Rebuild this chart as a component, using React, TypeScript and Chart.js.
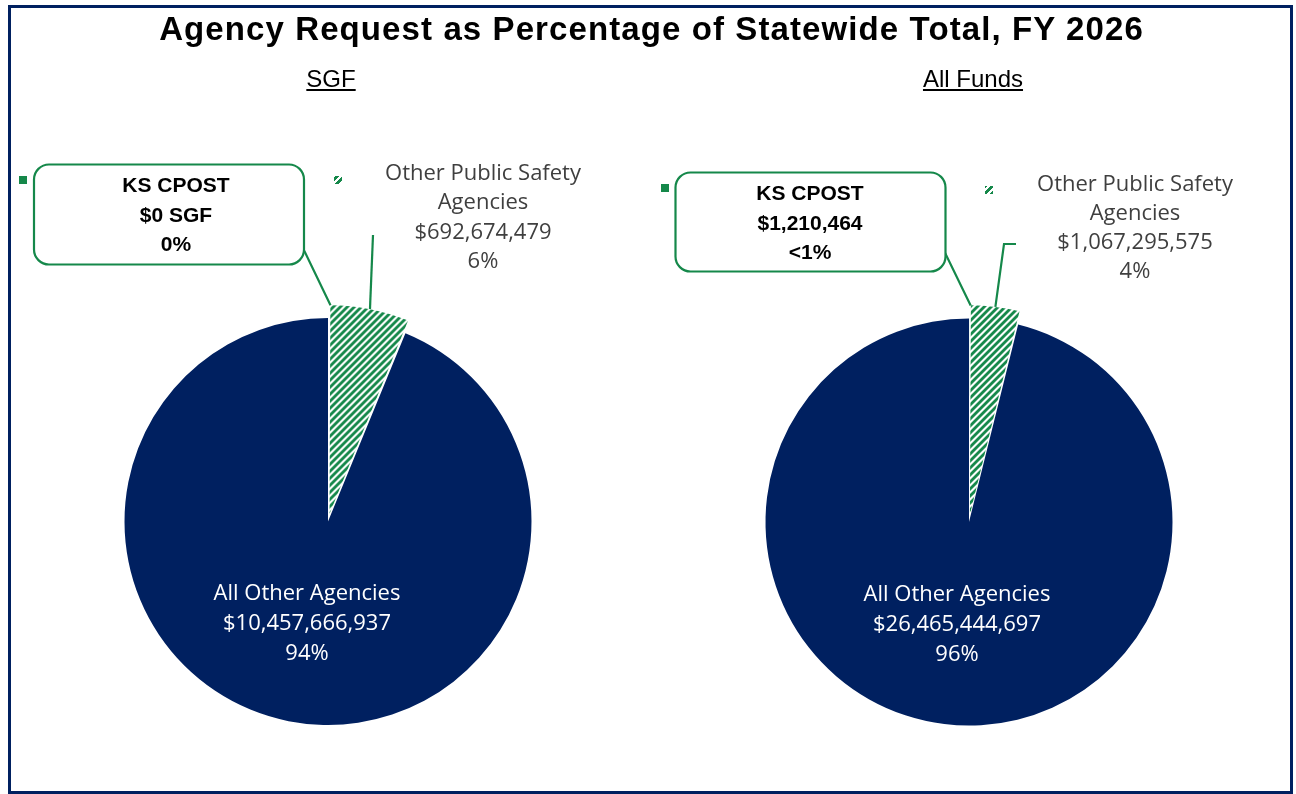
import React, { useEffect, useRef } from "react";
import { Chart, registerables } from "chart.js";

Chart.register(...registerables);

// ---------- data ----------
const chartTitle = "Agency Request as Percentage of Statewide Total, FY 2026";
const subtitles = ["SGF", "All Funds"];
const categories = ["KS CPOST", "Other Public Safety Agencies", "All Other Agencies"];
const sgfValues = [0, 692674479, 10457666937];
const sgfPercentLabels = ["0%", "6%", "94%"];
const allFundsValues = [1210464, 1067295575, 26465444697];
const allFundsPercentLabels = ["<1%", "4%", "96%"];
const valueSuffixes = [" SGF", ""]; // suffix used on the KS CPOST amount per chart

// ---------- style / layout ----------
const NAVY = "#002060";
const GREEN = "#15884A";
const GRAY_TEXT = "#3F3F3F";
const PAGE_W = 1296;
const PAGE_H = 794;
const PIE_RADIUS = 203.5;
const PIE_CENTERS = [
  { x: 328, y: 521.5 },
  { x: 969, y: 522 },
];
const EXPLODE = [32, 30];

type Pt = [number, number];
type LayoutCfg = {
  box: { x: number; y: number; w: number; h: number };
  boxCx: number;
  boxLineY: number[];
  cpostLeader: Pt[];
  cpostMarker: Pt;
  otherCx: number;
  otherLineY: number[];
  otherLeader: Pt[];
  otherMarker: Pt;
  allOtherCx: number;
  allOtherLineY: number[];
};

const LAYOUTS: LayoutCfg[] = [
  {
    box: { x: 34, y: 164.5, w: 270, h: 100 },
    boxCx: 176,
    boxLineY: [186, 216, 245],
    cpostLeader: [
      [278, 219],
      [289, 219],
    ],
    cpostMarker: [19, 176],
    otherCx: 483,
    otherLineY: [174, 203, 233, 262],
    otherLeader: [[373, 235]],
    otherMarker: [334, 176],
    allOtherCx: 307,
    allOtherLineY: [594, 624, 654],
  },
  {
    box: { x: 675.5, y: 172.5, w: 270, h: 99 },
    boxCx: 810,
    boxLineY: [194, 224, 253],
    cpostLeader: [
      [920, 228],
      [933, 228],
    ],
    cpostMarker: [661, 184],
    otherCx: 1135,
    otherLineY: [185, 214, 243, 272],
    otherLeader: [
      [1016, 244],
      [1004, 244],
    ],
    otherMarker: [985, 186],
    allOtherCx: 957,
    allOtherLineY: [595, 625, 655],
  },
];

const fmtMoney = (v: number) => "$" + v.toLocaleString("en-US");

function makeHatch(): CanvasPattern | string {
  const p = 7;
  const c = document.createElement("canvas");
  c.width = p;
  c.height = p;
  const g = c.getContext("2d");
  if (!g) return GREEN;
  g.fillStyle = "#ffffff";
  g.fillRect(0, 0, p, p);
  g.fillStyle = GREEN;
  for (let y = 0; y < p; y++) {
    for (let x = 0; x < p; x++) {
      if ((x + y) % p < 4) g.fillRect(x, y, 1, 1);
    }
  }
  const pat = g.createPattern(c, "repeat");
  return pat || GREEN;
}

function roundRectPath(ctx: CanvasRenderingContext2D, x: number, y: number, w: number, h: number, r: number) {
  ctx.beginPath();
  ctx.moveTo(x + r, y);
  ctx.lineTo(x + w - r, y);
  ctx.arcTo(x + w, y, x + w, y + r, r);
  ctx.lineTo(x + w, y + h - r);
  ctx.arcTo(x + w, y + h, x + w - r, y + h, r);
  ctx.lineTo(x + r, y + h);
  ctx.arcTo(x, y + h, x, y + h - r, r);
  ctx.lineTo(x, y + r);
  ctx.arcTo(x, y, x + r, y, r);
  ctx.closePath();
}

function buildChart(
  canvas: HTMLCanvasElement,
  idx: number,
  values: number[],
  percents: string[],
  hatch: CanvasPattern | string
) {
  const center = PIE_CENTERS[idx];
  const side = 2 * PIE_RADIUS + EXPLODE[idx];
  const L = LAYOUTS[idx];

  const labelPlugin = {
    id: "pieLabels" + idx,
    afterDraw(chart: any) {
      const ctx: CanvasRenderingContext2D = chart.ctx;
      const meta = chart.getDatasetMeta(0);
      const arc = meta.data[1];
      const p = arc.getProps(["x", "y", "startAngle", "endAngle", "outerRadius", "circumference"], true);
      const off = (arc.options.offset || 0) / 4;
      const fix = 1 - Math.sin(Math.min(Math.PI, p.circumference || 0));
      const t = off * (1 + fix);
      const half = (p.startAngle + p.endAngle) / 2;
      const ox = p.x + Math.cos(half) * t;
      const oy = p.y + Math.sin(half) * t;
      const at = (a: number): Pt => [ox + Math.cos(a) * p.outerRadius, oy + Math.sin(a) * p.outerRadius];

      ctx.save();
      // leader lines
      ctx.strokeStyle = GREEN;
      ctx.lineWidth = 2.2;
      ctx.lineJoin = "miter";
      const drawLeader = (pts: Pt[], end: Pt) => {
        ctx.beginPath();
        ctx.moveTo(pts[0][0], pts[0][1]);
        for (let i = 1; i < pts.length; i++) ctx.lineTo(pts[i][0], pts[i][1]);
        ctx.lineTo(end[0], end[1]);
        ctx.stroke();
      };
      drawLeader(L.cpostLeader, at(p.startAngle));
      drawLeader(L.otherLeader, at(half));

      // KS CPOST box
      roundRectPath(ctx, L.box.x, L.box.y, L.box.w, L.box.h, 15);
      ctx.fillStyle = "#ffffff";
      ctx.fill();
      ctx.lineWidth = 2.2;
      ctx.strokeStyle = GREEN;
      ctx.stroke();
      ctx.fillStyle = "#000000";
      ctx.font = "bold 21px 'Liberation Sans', Arial, sans-serif";
      ctx.textAlign = "center";
      ctx.textBaseline = "middle";
      const boxLines = [categories[0], fmtMoney(values[0]) + valueSuffixes[idx], percents[0]];
      boxLines.forEach((s, i) => ctx.fillText(s, L.boxCx, L.boxLineY[i]));

      // legend-key markers
      ctx.fillStyle = GREEN;
      ctx.fillRect(L.cpostMarker[0], L.cpostMarker[1], 8, 8);
      ctx.fillStyle = hatch as any;
      ctx.fillRect(L.otherMarker[0], L.otherMarker[1], 8, 8);

      // other public safety label
      ctx.fillStyle = GRAY_TEXT;
      ctx.font = "22px 'Open Sans', sans-serif";
      const otherLines = ["Other Public Safety", "Agencies", fmtMoney(values[1]), percents[1]];
      otherLines.forEach((s, i) => ctx.fillText(s, L.otherCx, L.otherLineY[i]));

      // all other label
      ctx.fillStyle = "#ffffff";
      const allLines = [categories[2], fmtMoney(values[2]), percents[2]];
      allLines.forEach((s, i) => ctx.fillText(s, L.allOtherCx, L.allOtherLineY[i]));
      ctx.restore();
    },
  };

  return new Chart(canvas, {
    type: "pie",
    data: {
      labels: categories,
      datasets: [
        {
          data: values,
          backgroundColor: [GREEN, hatch as any, NAVY],
          borderWidth: 0,
          hoverBorderWidth: 0,
          hoverOffset: 0,
          offset: [0, EXPLODE[idx], 0],
        } as any,
      ],
    },
    options: {
      animation: false,
      responsive: false,
      events: [],
      layout: {
        padding: {
          left: center.x - side / 2,
          right: PAGE_W - (center.x + side / 2),
          top: center.y - side / 2,
          bottom: PAGE_H - (center.y + side / 2),
        },
      },
      plugins: {
        legend: { display: false },
        tooltip: { enabled: false },
        title: { display: false },
      },
    } as any,
    plugins: [labelPlugin],
  });
}

export default function App() {
  const ref1 = useRef<HTMLCanvasElement>(null);
  const ref2 = useRef<HTMLCanvasElement>(null);

  useEffect(() => {
    const hatch = makeHatch();
    const c1 = ref1.current ? buildChart(ref1.current, 0, sgfValues, sgfPercentLabels, hatch) : null;
    const c2 = ref2.current ? buildChart(ref2.current, 1, allFundsValues, allFundsPercentLabels, hatch) : null;
    return () => {
      c1 && c1.destroy();
      c2 && c2.destroy();
    };
  }, []);

  const canvasStyle: React.CSSProperties = {
    position: "absolute",
    left: 0,
    top: 0,
    width: PAGE_W,
    height: PAGE_H,
  };

  return (
    <div style={{ position: "fixed", left: 0, top: 0, width: PAGE_W, height: PAGE_H, background: "#fff" }}>
      <div
        style={{
          position: "absolute",
          left: 8,
          top: 5,
          width: 1285,
          height: 789,
          boxSizing: "border-box",
          border: `3px solid ${NAVY}`,
        }}
      />
      <canvas ref={ref1} width={PAGE_W} height={PAGE_H} style={canvasStyle} />
      <canvas ref={ref2} width={PAGE_W} height={PAGE_H} style={canvasStyle} />
      <div
        style={{
          position: "absolute",
          left: 0,
          top: 12,
          width: 1303,
          textAlign: "center",
          font: "bold 33px 'Liberation Sans', Arial, sans-serif",
          lineHeight: "33px",
          letterSpacing: "1.1px",
          color: "#000",
          whiteSpace: "nowrap",
        }}
      >
        {chartTitle}
      </div>
      {subtitles.map((s, i) => (
        <div
          key={s}
          style={{
            position: "absolute",
            left: (i === 0 ? 331 : 973) - 200,
            top: 67,
            width: 400,
            textAlign: "center",
            font: "24px 'Liberation Sans', Arial, sans-serif",
            lineHeight: "24px",
            color: "#000",
          }}
        >
          <span style={{ textDecoration: "underline" }}>{s}</span>
        </div>
      ))}
    </div>
  );
}
